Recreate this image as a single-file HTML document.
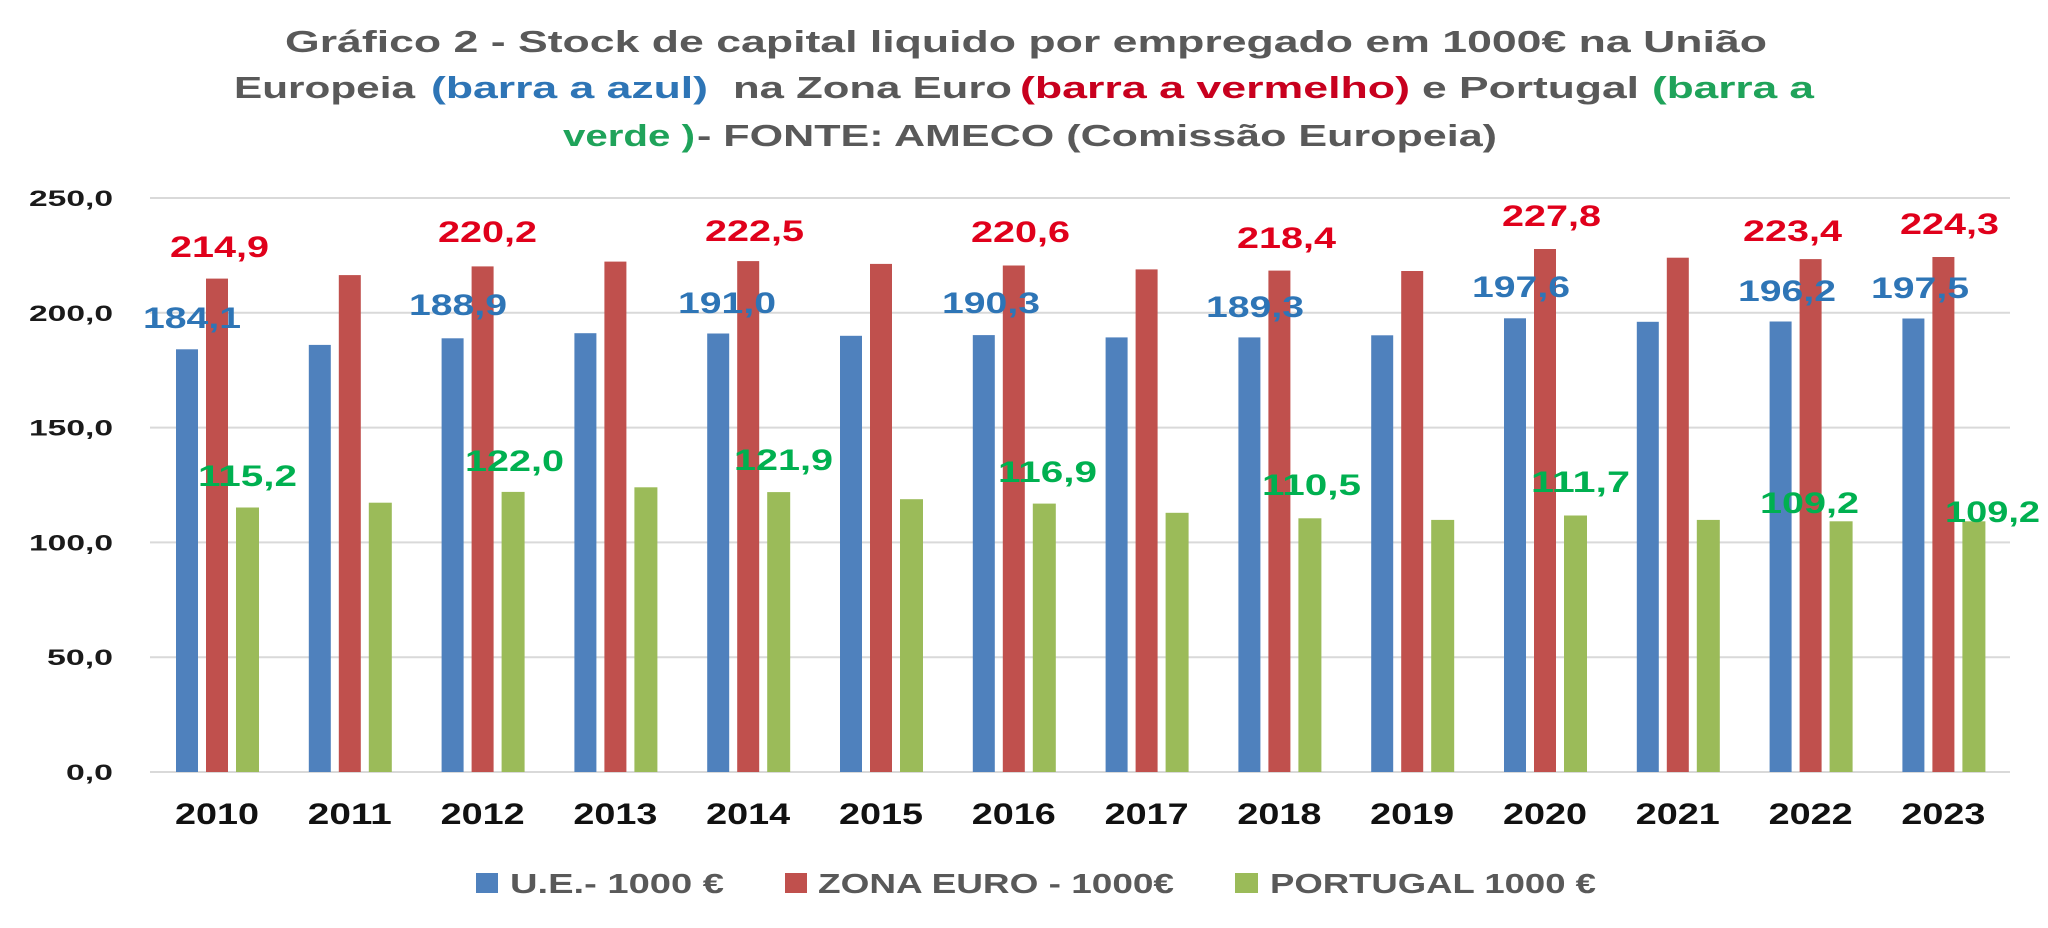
<!DOCTYPE html>
<html>
<head>
<meta charset="utf-8">
<style>
  html,body{margin:0;padding:0;background:#fff;}
  svg{display:block;}
  text{font-family:"Liberation Sans",Arial,sans-serif;font-weight:bold;}
</style>
</head>
<body>
<svg width="2048" height="928" viewBox="0 0 2048 928" xmlns="http://www.w3.org/2000/svg">
  <rect x="0" y="0" width="2048" height="928" fill="#ffffff"/>

  <!-- Title -->
  <g font-size="31">
    <text x="285" y="52" fill="#595959" textLength="1482" lengthAdjust="spacingAndGlyphs">Gráfico 2  - Stock de capital liquido por empregado em 1000€ na União</text>

    <text x="234" y="98" fill="#595959" textLength="181" lengthAdjust="spacingAndGlyphs">Europeia</text>
    <text x="431" y="98" fill="#2E75B6" textLength="277" lengthAdjust="spacingAndGlyphs">(barra a azul)</text>
    <text x="733" y="98" fill="#595959" textLength="279" lengthAdjust="spacingAndGlyphs">na Zona Euro</text>
    <text x="1020" y="98" fill="#C8001E" textLength="390" lengthAdjust="spacingAndGlyphs">(barra a vermelho)</text>
    <text x="1422" y="98" fill="#595959" textLength="217" lengthAdjust="spacingAndGlyphs">e Portugal</text>
    <text x="1652" y="98" fill="#1FA35A" textLength="162" lengthAdjust="spacingAndGlyphs">(barra a</text>

    <text x="563" y="146" fill="#1FA35A" textLength="132" lengthAdjust="spacingAndGlyphs">verde )</text>
    <text x="697" y="146" fill="#595959" textLength="800" lengthAdjust="spacingAndGlyphs">- FONTE: AMECO (Comissão Europeia)</text>
  </g>

  <!-- Gridlines -->
  <g stroke="#d9d9d9" stroke-width="2">
    <line x1="150" y1="198" x2="2010" y2="198"/>
    <line x1="150" y1="312.8" x2="2010" y2="312.8"/>
    <line x1="150" y1="427.6" x2="2010" y2="427.6"/>
    <line x1="150" y1="542.4" x2="2010" y2="542.4"/>
    <line x1="150" y1="657.2" x2="2010" y2="657.2"/>
    <line x1="150" y1="772" x2="2010" y2="772"/>
  </g>

  <!-- Y axis labels -->
  <g font-size="22" fill="#1a1a1a">
    <text x="29" y="206" textLength="84" lengthAdjust="spacingAndGlyphs">250,0</text>
    <text x="29" y="320.8" textLength="84" lengthAdjust="spacingAndGlyphs">200,0</text>
    <text x="29" y="435.6" textLength="84" lengthAdjust="spacingAndGlyphs">150,0</text>
    <text x="29" y="550.4" textLength="84" lengthAdjust="spacingAndGlyphs">100,0</text>
    <text x="47" y="665.2" textLength="66" lengthAdjust="spacingAndGlyphs">50,0</text>
    <text x="66" y="780" textLength="47" lengthAdjust="spacingAndGlyphs">0,0</text>
  </g>

  <!-- Blue bars (U.E.) -->
  <g fill="#4F81BD">
    <rect x="176" y="349.3" width="22" height="422.7"/>
    <rect x="308.8" y="344.9" width="22" height="427.1"/>
    <rect x="441.6" y="338.3" width="22" height="433.7"/>
    <rect x="574.4" y="333.2" width="22" height="438.8"/>
    <rect x="707.2" y="333.5" width="22" height="438.5"/>
    <rect x="840" y="335.8" width="22" height="436.2"/>
    <rect x="972.8" y="335.1" width="22" height="436.9"/>
    <rect x="1105.6" y="337.4" width="22" height="434.6"/>
    <rect x="1238.4" y="337.4" width="22" height="434.6"/>
    <rect x="1371.2" y="335.3" width="22" height="436.7"/>
    <rect x="1504" y="318.3" width="22" height="453.7"/>
    <rect x="1636.8" y="321.8" width="22" height="450.2"/>
    <rect x="1769.6" y="321.5" width="22" height="450.5"/>
    <rect x="1902.4" y="318.5" width="22" height="453.5"/>
  </g>

  <!-- Red bars (Zona Euro) -->
  <g fill="#C0504D">
    <rect x="206" y="278.6" width="22" height="493.4"/>
    <rect x="338.8" y="275.1" width="22" height="496.9"/>
    <rect x="471.6" y="266.4" width="22" height="505.6"/>
    <rect x="604.4" y="261.6" width="22" height="510.4"/>
    <rect x="737.2" y="261.1" width="22" height="510.9"/>
    <rect x="870" y="263.9" width="22" height="508.1"/>
    <rect x="1002.8" y="265.5" width="22" height="506.5"/>
    <rect x="1135.6" y="269.4" width="22" height="502.6"/>
    <rect x="1268.4" y="270.6" width="22" height="501.4"/>
    <rect x="1401.2" y="271" width="22" height="501"/>
    <rect x="1534" y="249" width="22" height="523"/>
    <rect x="1666.8" y="257.7" width="22" height="514.3"/>
    <rect x="1799.6" y="259.1" width="22" height="512.9"/>
    <rect x="1932.4" y="257" width="22" height="515"/>
  </g>

  <!-- Green bars (Portugal) -->
  <g fill="#9BBB59">
    <rect x="236" y="507.5" width="23" height="264.5"/>
    <rect x="368.8" y="502.7" width="23" height="269.3"/>
    <rect x="501.6" y="491.9" width="23" height="280.1"/>
    <rect x="634.4" y="487.3" width="23" height="284.7"/>
    <rect x="767.2" y="492.1" width="23" height="279.9"/>
    <rect x="900" y="499.2" width="23" height="272.8"/>
    <rect x="1032.8" y="503.6" width="23" height="268.4"/>
    <rect x="1165.6" y="512.8" width="23" height="259.2"/>
    <rect x="1298.4" y="518.3" width="23" height="253.7"/>
    <rect x="1431.2" y="519.9" width="23" height="252.1"/>
    <rect x="1564" y="515.5" width="23" height="256.5"/>
    <rect x="1696.8" y="519.9" width="23" height="252.1"/>
    <rect x="1829.6" y="521.3" width="23" height="250.7"/>
    <rect x="1962.4" y="521.3" width="23" height="250.7"/>
  </g>

  <!-- Red data labels -->
  <g font-size="29.5" fill="#E0001B">
    <text x="170" y="257" textLength="99" lengthAdjust="spacingAndGlyphs">214,9</text>
    <text x="438" y="242" textLength="99" lengthAdjust="spacingAndGlyphs">220,2</text>
    <text x="705" y="241" textLength="99" lengthAdjust="spacingAndGlyphs">222,5</text>
    <text x="971" y="242" textLength="99" lengthAdjust="spacingAndGlyphs">220,6</text>
    <text x="1237" y="248" textLength="99" lengthAdjust="spacingAndGlyphs">218,4</text>
    <text x="1502" y="226" textLength="99" lengthAdjust="spacingAndGlyphs">227,8</text>
    <text x="1743" y="241" textLength="99" lengthAdjust="spacingAndGlyphs">223,4</text>
    <text x="1900" y="234" textLength="99" lengthAdjust="spacingAndGlyphs">224,3</text>
  </g>

  <!-- Blue data labels -->
  <g font-size="29.5" fill="#2E75B6">
    <text x="143" y="328" textLength="98" lengthAdjust="spacingAndGlyphs">184,1</text>
    <text x="409" y="315" textLength="98" lengthAdjust="spacingAndGlyphs">188,9</text>
    <text x="678" y="313" textLength="98" lengthAdjust="spacingAndGlyphs">191,0</text>
    <text x="942" y="313" textLength="98" lengthAdjust="spacingAndGlyphs">190,3</text>
    <text x="1206" y="317" textLength="98" lengthAdjust="spacingAndGlyphs">189,3</text>
    <text x="1472" y="297" textLength="98" lengthAdjust="spacingAndGlyphs">197,6</text>
    <text x="1738" y="301" textLength="98" lengthAdjust="spacingAndGlyphs">196,2</text>
    <text x="1871" y="298" textLength="98" lengthAdjust="spacingAndGlyphs">197,5</text>
  </g>

  <!-- Green data labels -->
  <g font-size="29.5" fill="#00B050">
    <text x="198" y="486" textLength="99" lengthAdjust="spacingAndGlyphs">115,2</text>
    <text x="465" y="471" textLength="99" lengthAdjust="spacingAndGlyphs">122,0</text>
    <text x="734" y="470" textLength="99" lengthAdjust="spacingAndGlyphs">121,9</text>
    <text x="998" y="482" textLength="99" lengthAdjust="spacingAndGlyphs">116,9</text>
    <text x="1262" y="495" textLength="99" lengthAdjust="spacingAndGlyphs">110,5</text>
    <text x="1531" y="492" textLength="99" lengthAdjust="spacingAndGlyphs">111,7</text>
    <text x="1760" y="513" textLength="99" lengthAdjust="spacingAndGlyphs">109,2</text>
    <text x="1945" y="522" textLength="95" lengthAdjust="spacingAndGlyphs">109,2</text>
  </g>

  <!-- X axis labels -->
  <g font-size="29.5" fill="#111111">
    <text x="175" y="824" textLength="84" lengthAdjust="spacingAndGlyphs">2010</text>
    <text x="307.8" y="824" textLength="84" lengthAdjust="spacingAndGlyphs">2011</text>
    <text x="440.6" y="824" textLength="84" lengthAdjust="spacingAndGlyphs">2012</text>
    <text x="573.4" y="824" textLength="84" lengthAdjust="spacingAndGlyphs">2013</text>
    <text x="706.2" y="824" textLength="84" lengthAdjust="spacingAndGlyphs">2014</text>
    <text x="839" y="824" textLength="84" lengthAdjust="spacingAndGlyphs">2015</text>
    <text x="971.8" y="824" textLength="84" lengthAdjust="spacingAndGlyphs">2016</text>
    <text x="1104.6" y="824" textLength="84" lengthAdjust="spacingAndGlyphs">2017</text>
    <text x="1237.4" y="824" textLength="84" lengthAdjust="spacingAndGlyphs">2018</text>
    <text x="1370.2" y="824" textLength="84" lengthAdjust="spacingAndGlyphs">2019</text>
    <text x="1503" y="824" textLength="84" lengthAdjust="spacingAndGlyphs">2020</text>
    <text x="1635.8" y="824" textLength="84" lengthAdjust="spacingAndGlyphs">2021</text>
    <text x="1768.6" y="824" textLength="84" lengthAdjust="spacingAndGlyphs">2022</text>
    <text x="1901.4" y="824" textLength="84" lengthAdjust="spacingAndGlyphs">2023</text>
  </g>

  <!-- Legend -->
  <rect x="476" y="873" width="22" height="20" fill="#4F81BD"/>
  <rect x="785" y="873" width="22" height="20" fill="#C0504D"/>
  <rect x="1235" y="873" width="23" height="20" fill="#9BBB59"/>
  <g font-size="28" fill="#595959">
    <text x="510" y="893" textLength="214" lengthAdjust="spacingAndGlyphs">U.E.- 1000 €</text>
    <text x="818" y="893" textLength="356" lengthAdjust="spacingAndGlyphs">ZONA EURO - 1000€</text>
    <text x="1270" y="893" textLength="326" lengthAdjust="spacingAndGlyphs">PORTUGAL 1000 €</text>
  </g>
</svg>
</body>
</html>
